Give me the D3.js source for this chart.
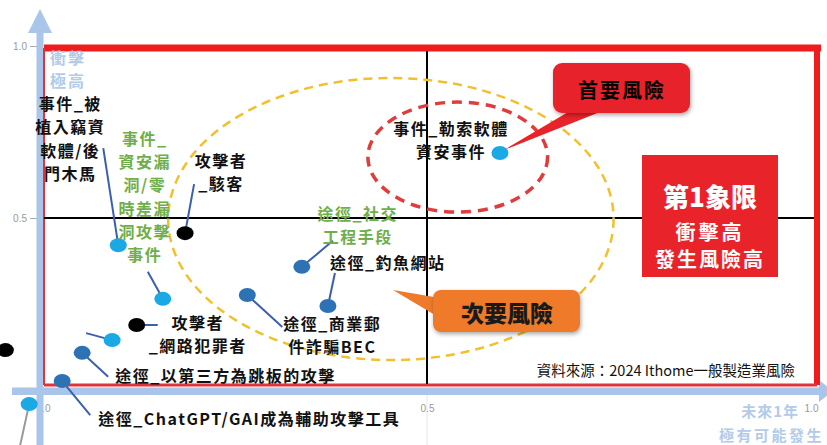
<!DOCTYPE html>
<html lang="zh-Hant">
<head>
<meta charset="UTF-8">
<title>資安風險矩陣</title>
<script src="https://d3js.org/d3.v7.min.js"></script>
<style>
    body { margin: 0; background: #fff; }
    svg { display: block; font-family: "Noto Sans CJK TC", "Noto Sans", sans-serif; }
    .lbl { font-size: 16px; font-weight: 700; letter-spacing: 1.5px; }
    .tick text { fill: #9a9a9a; font-size: 10px; font-family: "Liberation Sans", sans-serif; }
</style>
</head>
<body>
<div id="chart"></div>
<script>
// 風險項目 (x: 未來1年發生可能性, y: 衝擊程度)
const riskNames = [
    "事件_勒索軟體資安事件",
    "事件_被植入竊資軟體/後門木馬",
    "事件_資安漏洞/零時差漏洞攻擊事件",
    "攻擊者_駭客",
    "途徑_社交工程手段",
    "途徑_釣魚網站",
    "途徑_商業郵件詐騙BEC",
    "攻擊者_網路犯罪者",
    "事件_(未標示)",
    "途徑_以第三方為跳板的攻擊",
    "途徑_ChatGPT/GAI成為輔助攻擊工具",
    "事件_(邊緣)",
    "攻擊者_(邊緣)"
];
const likelihood = [0.595, 0.098, 0.156, 0.185, 0.337, 0.371, 0.266, 0.122, 0.090, 0.051, 0.025, -0.018, -0.049];
const impact     = [0.689, 0.421, 0.265, 0.456, 0.358, 0.244, 0.276, 0.189, 0.145, 0.108, 0.026, -0.041, 0.116];
const riskType   = ["事件", "事件", "事件", "攻擊者", "途徑", "途徑", "途徑", "攻擊者", "事件", "途徑", "途徑", "事件", "攻擊者"];

const xTicks = [0, 0.5, 1.0];
const yTicks = [0.5, 1.0];

// 風險範圍 (橢圓, 資料座標)
const riskZones = [
    { name: "次要風險", cx: 0.453, cy: 0.497, rx: 0.290, ry: 0.410, color: "#f2c02c" },
    { name: "首要風險", cx: 0.540, cy: 0.677, rx: 0.117, ry: 0.160, color: "#e03c3c" }
];

// 標籤排版 (相對於點的位移)
const labelLayout = [
    { lines: ["事件_勒索軟體", "資安事件"], dx: -49, dy: -25, anchor: "middle", lead: null },
    { lines: ["事件_被", "植入竊資", "軟體/後", "門木馬"], dx: -48, dy: -142, anchor: "middle", lead: [-15, -97] },
    { lines: ["事件_", "資安漏", "洞/零", "時差漏", "洞攻擊", "事件"], dx: -18, dy: -161, anchor: "middle", lead: [-15, -27], green: true },
    { lines: ["攻擊者", "_駭客"], dx: 36, dy: -73, anchor: "middle", lead: [9, -49] },
    { lines: ["途徑_社交", "工程手段"], dx: 56, dy: -54, anchor: "middle", lead: [31, -26], green: true },
    { lines: ["途徑_釣魚網站"], dx: 2, dy: -44, anchor: "start", lead: [7, -33] },
    { lines: ["途徑_商業郵", "件詐騙BEC"], dx: 85, dy: 28, anchor: "middle", lead: [35, 32] },
    { lines: ["攻擊者", "_網路犯罪者"], dx: 61, dy: -3, anchor: "middle", lead: [21, 0] },
    { lines: [], lead: [-26, -7] },
    { lines: ["途徑_以第三方為跳板的攻擊"], dx: 33, dy: 22, anchor: "start", lead: [26, 24] },
    { lines: ["途徑_ChatGPT/GAI成為輔助攻擊工具"], dx: 36, dy: 37, anchor: "start", lead: [28, 34] },
    { lines: [], lead: [-9, 41], gray: true },
    { lines: [], lead: null }
];

const W = 827, H = 445;
const svg = d3.select("#chart").append("svg").attr("width", W).attr("height", H);

const x = d3.scaleLinear().domain([0, 1]).range([43, 811]);
const y = d3.scaleLinear().domain([0, 1]).range([390, 46]);

const typeColor = d3.scaleOrdinal().domain(["事件", "途徑", "攻擊者"]).range(["#1ba9e6", "#2e72b6", "#000"]);

// 淡灰格線 (0.5)
svg.append("line").attr("x1", x(0.5)).attr("x2", x(0.5)).attr("y1", 395).attr("y2", H)
    .attr("stroke", "#e6e6e6").attr("stroke-width", 1);

// 刻度
svg.append("g").attr("transform", "translate(0,402)")
    .call(d3.axisBottom(x).tickValues(xTicks).tickFormat(d3.format(".1f")).tickSize(0))
    .call(g => g.select(".domain").remove());
svg.append("g").attr("transform", "translate(38,0)")
    .call(d3.axisLeft(y).tickValues(yTicks).tickFormat(d3.format(".1f")).tickSize(8))
    .call(g => g.select(".domain").remove())
    .call(g => g.selectAll(".tick line").attr("stroke", "#aaa"));

// 淺藍座標軸 + 箭頭
const axisBlue = "#a9c6ea";
svg.append("rect").attr("x", 36.5).attr("y", 28).attr("width", 7).attr("height", H - 28).attr("fill", axisBlue);
svg.append("path").attr("d", "M40,9 L52,33 L28,33 Z").attr("fill", axisBlue);
svg.append("rect").attr("x", 12).attr("y", 387.5).attr("width", W - 18).attr("height", 7.5).attr("fill", axisBlue);
svg.append("path").attr("d", `M${W + 6},391 L${W - 8},380 L${W - 8},402 Z`).attr("fill", axisBlue);

// 紅框
const fx0 = 44, fx1 = 817, fy0 = 48, fy1 = 385;
svg.append("line").attr("x1", fx0).attr("x2", fx1 + 4).attr("y1", fy0).attr("y2", fy0).attr("stroke", "#f01c1c").attr("stroke-width", 7);
svg.append("line").attr("x1", fx1).attr("x2", fx1).attr("y1", fy0).attr("y2", fy1).attr("stroke", "#f01c1c").attr("stroke-width", 6);
svg.append("line").attr("x1", fx0).attr("x2", fx0).attr("y1", fy0).attr("y2", fy1).attr("stroke", "#e0343a").attr("stroke-width", 2);
svg.append("line").attr("x1", fx0).attr("x2", fx1).attr("y1", fy1).attr("y2", fy1).attr("stroke", "#e0343a").attr("stroke-width", 3);

// 象限線
svg.append("line").attr("x1", x(0.5)).attr("x2", x(0.5)).attr("y1", fy0 + 3).attr("y2", fy1 - 1).attr("stroke", "#000").attr("stroke-width", 2);
svg.append("line").attr("x1", fx0).attr("x2", fx1 - 3).attr("y1", y(0.5)).attr("y2", y(0.5)).attr("stroke", "#000").attr("stroke-width", 2);

// 風險範圍橢圓
svg.selectAll(".zone").data(riskZones).enter().append("ellipse")
    .attr("class", "zone")
    .attr("cx", d => x(d.cx)).attr("cy", d => y(d.cy))
    .attr("rx", d => x(d.rx) - x(0)).attr("ry", d => y(0) - y(d.ry))
    .attr("fill", "none").attr("stroke", d => d.color)
    .attr("stroke-width", (d, i) => i === 0 ? 2.5 : 3.5)
    .attr("stroke-dasharray", (d, i) => i === 0 ? "9,6" : "10,7");

// 第1象限 方塊
const q = svg.append("g");
q.append("rect").attr("x", 642).attr("y", 155).attr("width", 136).attr("height", 122).attr("fill", "#e8232a");
q.append("text").attr("x", 710).attr("y", 195).attr("text-anchor", "middle").attr("dominant-baseline", "central")
    .attr("fill", "#fff").attr("font-size", 26).attr("font-weight", 900).text("第1象限");
q.append("text").attr("x", 710).attr("y", 231).attr("text-anchor", "middle").attr("dominant-baseline", "central")
    .attr("fill", "#fff").attr("font-size", 20).attr("font-weight", 700).attr("letter-spacing", 3).text("衝擊高");
q.append("text").attr("x", 710).attr("y", 258).attr("text-anchor", "middle").attr("dominant-baseline", "central")
    .attr("fill", "#fff").attr("font-size", 20).attr("font-weight", 700).attr("letter-spacing", 2).text("發生風險高");

// 陰影
const defs = svg.append("defs");
const sh = defs.append("filter").attr("id", "shadow").attr("x", "-20%").attr("y", "-20%").attr("width", "140%").attr("height", "150%");
sh.append("feDropShadow").attr("dx", 1).attr("dy", 2).attr("stdDeviation", 2).attr("flood-opacity", 0.35);

// 首要風險 callout
const p0x = x(likelihood[0]), p0y = y(impact[0]);
svg.append("path")
    .attr("d", `M${p0x + 4},${p0y - 3} L575,108 L610,108 Z`)
    .attr("fill", "#e8232a");
svg.append("rect").attr("x", 553).attr("y", 63).attr("width", 137).attr("height", 50).attr("rx", 9)
    .attr("fill", "#e8232a").attr("filter", "url(#shadow)");
svg.append("text").attr("x", 622).attr("y", 89).attr("text-anchor", "middle").attr("dominant-baseline", "central")
    .attr("font-size", 20).attr("font-weight", 700).attr("letter-spacing", 2).text("首要風險");

// 次要風險 callout
svg.append("path").attr("d", "M393,290 L440,298 L440,318 Z").attr("fill", "#ee7a2c");
svg.append("rect").attr("x", 433).attr("y", 290).attr("width", 147).attr("height", 42).attr("rx", 8)
    .attr("fill", "#ee7a2c").attr("filter", "url(#shadow)");
svg.append("text").attr("x", 507).attr("y", 312).attr("text-anchor", "middle").attr("dominant-baseline", "central")
    .attr("font-size", 23).attr("font-weight", 900).attr("fill", "#1a1a1a").text("次要風險");

// 指示線
riskNames.forEach((n, i) => {
    const L = labelLayout[i];
    if (!L.lead) return;
    const px = x(likelihood[i]), py = y(impact[i]);
    svg.append("line").attr("x1", px).attr("y1", py).attr("x2", px + L.lead[0]).attr("y2", py + L.lead[1])
        .attr("stroke", L.gray ? "#999" : "#3a60ad").attr("stroke-width", 2);
});

// 點
svg.selectAll(".pt").data(riskNames).enter().append("ellipse")
    .attr("class", "pt")
    .attr("cx", (d, i) => x(likelihood[i]))
    .attr("cy", (d, i) => y(impact[i]))
    .attr("rx", 8.5).attr("ry", 7)
    .attr("fill", (d, i) => typeColor(riskType[i]));

// 標籤
riskNames.forEach((n, i) => {
    const L = labelLayout[i];
    const px = x(likelihood[i]), py = y(impact[i]);
    L.lines.forEach((t, k) => {
        svg.append("text").attr("class", "lbl")
            .attr("x", px + L.dx).attr("y", py + L.dy + k * 23.3)
            .attr("text-anchor", L.anchor).attr("dominant-baseline", "central")
            .attr("fill", L.green ? "#6fae4a" : "#111")
            .text(t);
    });
});

// 軸標題
const axTitle = "#b3cbe8";
svg.append("text").attr("x", 68).attr("y", 57).attr("text-anchor", "middle").attr("dominant-baseline", "central")
    .attr("fill", axTitle).attr("font-size", 16).attr("font-weight", 700).attr("letter-spacing", 2).text("衝擊");
svg.append("text").attr("x", 68).attr("y", 80).attr("text-anchor", "middle").attr("dominant-baseline", "central")
    .attr("fill", axTitle).attr("font-size", 16).attr("font-weight", 700).attr("letter-spacing", 2).text("極高");
svg.append("text").attr("x", 799).attr("y", 410).attr("text-anchor", "end").attr("dominant-baseline", "central")
    .attr("fill", axTitle).attr("font-size", 15).attr("font-weight", 700).attr("letter-spacing", 1).text("未來1年");
svg.append("text").attr("x", 824).attr("y", 434).attr("text-anchor", "end").attr("dominant-baseline", "central")
    .attr("fill", axTitle).attr("font-size", 15).attr("font-weight", 700).attr("letter-spacing", 2.5).text("極有可能發生");

// 資料來源
svg.append("text").attr("x", 795).attr("y", 369).attr("text-anchor", "end").attr("dominant-baseline", "central")
    .attr("font-size", 14.5).attr("fill", "#111").text("資料來源：2024 Ithome一般製造業風險");
</script>
</body>
</html>
